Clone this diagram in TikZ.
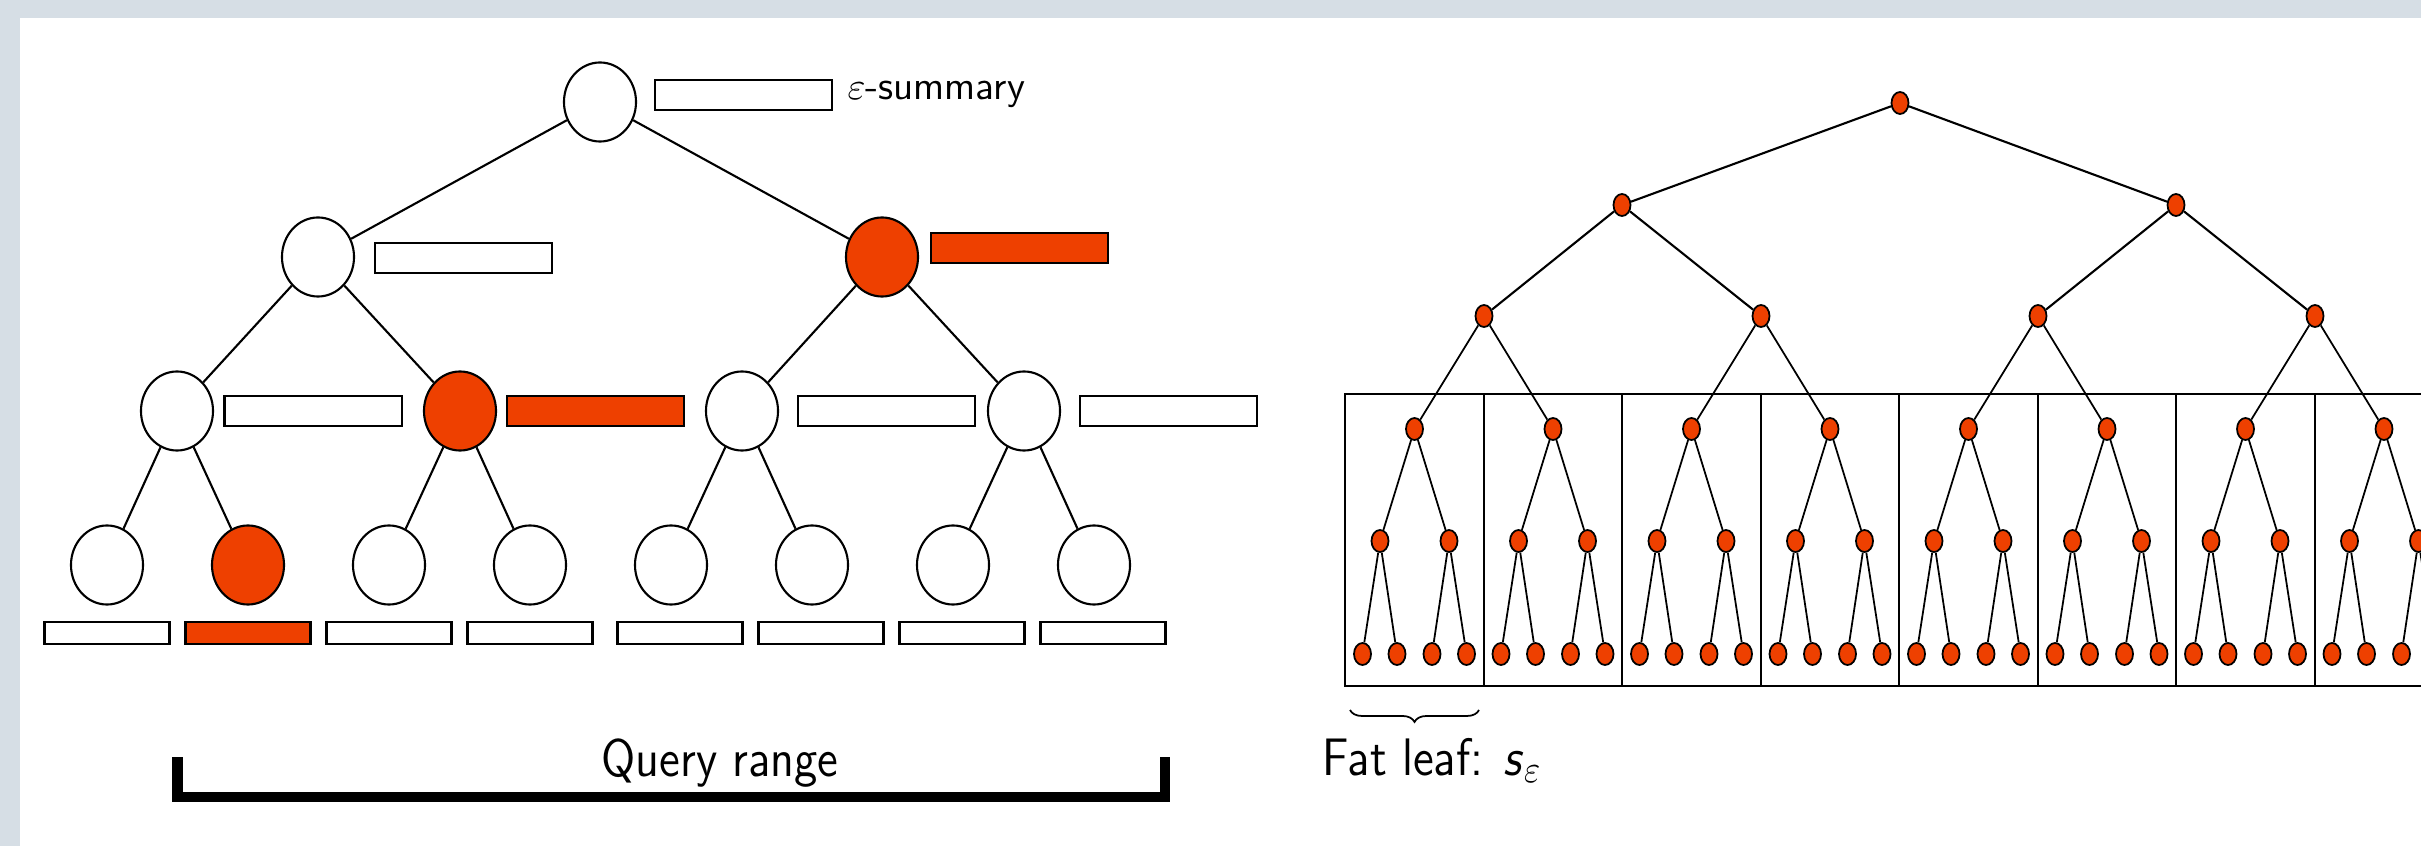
\documentclass[tikz,border=0pt]{standalone}
\usepackage{graphicx}
\usetikzlibrary{shapes.geometric,decorations.pathreplacing}
\definecolor{bggray}{HTML}{D6DEE5}
\definecolor{hot}{HTML}{EE4000}
\begin{document}
\begin{tikzpicture}[x=0.01cm,y=-0.01cm,
  big/.style={ellipse,draw,line width=0.6pt,minimum width=0.72cm,minimum height=0.79cm,inner sep=0pt,fill=white},
  bighot/.style={big,fill=hot},
  sumbox/.style={rectangle,draw,line width=0.6pt,minimum width=1.77cm,minimum height=0.30cm,inner sep=0pt,fill=white},
  sumhot/.style={sumbox,fill=hot},
  leafbox/.style={rectangle,draw,line width=0.6pt,minimum width=1.25cm,minimum height=0.22cm,inner sep=0pt,fill=white},
  leafhot/.style={leafbox,fill=hot},
  dot/.style={ellipse,draw,line width=0.5pt,fill=hot,minimum width=0.17cm,minimum height=0.22cm,inner sep=0pt},
  edge/.style={line width=0.6pt},
  thinedge/.style={line width=0.5pt},
  boxline/.style={line width=0.65pt}]
\useasboundingbox (0,0) rectangle (2421,846);
\clip (0,0) rectangle (2421,846);
\fill[bggray] (0,0) rectangle (2421,846);
\fill[white] (20,18) rectangle (2421,846);

% ---------- left tree ----------
\node[big] (r) at (600,102) {};
\node[sumbox] (rs) at (743.5,95) {};
\node[anchor=base west,inner sep=0pt,font=\fontsize{11.4}{13}\sffamily] (es) at (847,100) {$\varepsilon$-summary};

\node[big] (a) at (318,257) {};
\node[bighot] (b) at (882,257) {};
\node[sumbox] (as) at (463.5,258) {};
\node[sumhot] (bs) at (1019.5,248) {};

\node[big] (a1) at (177,411) {};
\node[bighot] (a2) at (460,411) {};
\node[big] (b1) at (742,411) {};
\node[big] (b2) at (1024,411) {};
\node[sumbox] (a1s) at (313,411) {};
\node[sumhot] (a2s) at (595.5,411) {};
\node[sumbox] (b1s) at (886.5,411) {};
\node[sumbox] (b2s) at (1168.5,411) {};

\node[big] (l1) at (107,565) {};
\node[bighot] (l2) at (248,565) {};
\node[big] (l3) at (389,565) {};
\node[big] (l4) at (530,565) {};
\node[big] (l5) at (671,565) {};
\node[big] (l6) at (812,565) {};
\node[big] (l7) at (953,565) {};
\node[big] (l8) at (1094,565) {};

\node[leafbox] (s1) at (107,633) {};
\node[leafhot] (s2) at (248,633) {};
\node[leafbox] (s3) at (389,633) {};
\node[leafbox] (s4) at (530,633) {};
\node[leafbox] (s5) at (680,633) {};
\node[leafbox] (s6) at (821,633) {};
\node[leafbox] (s7) at (962,633) {};
\node[leafbox] (s8) at (1103,633) {};

\draw[edge] (r) -- (a);
\draw[edge] (r) -- (b);
\draw[edge] (a) -- (a1);
\draw[edge] (a) -- (a2);
\draw[edge] (b) -- (b1);
\draw[edge] (b) -- (b2);
\draw[edge] (a1) -- (l1);
\draw[edge] (a1) -- (l2);
\draw[edge] (a2) -- (l3);
\draw[edge] (a2) -- (l4);
\draw[edge] (b1) -- (l5);
\draw[edge] (b1) -- (l6);
\draw[edge] (b2) -- (l7);
\draw[edge] (b2) -- (l8);

% query range bracket
\coordinate (q1) at (177.5,757);
\coordinate (q2) at (177.5,796.5);
\coordinate (q3) at (1164.5,796.5);
\coordinate (q4) at (1164.5,757);
\draw[line width=0.1cm] (q1) -- (q2) -- (q3) -- (q4);
\node[anchor=base,inner sep=0pt,font=\fontsize{15}{18}\sffamily] (qt) at (720,776) {\scalebox{0.9}[1]{Query range}};

% ---------- right tree ----------
\draw[boxline] (1345,394) rectangle (2480,686);
\foreach \k in {1,...,8}{
  \pgfmathsetmacro\dx{round(1345+138.5*\k)}
  \draw[boxline] (\dx,394) -- (\dx,686);
}

\node[dot] (R) at (1900,103) {};
\node[dot] (P0) at (1622,205) {};
\node[dot] (P1) at (2176,205) {};
\foreach \j in {0,...,3}{
  \node[dot] (C\j) at (1484+277*\j,316) {};
}
\foreach \k in {0,...,7}{
  \pgfmathsetmacro\cx{1414.5+138.5*\k}
  \node[dot] (F\k) at (\cx,429) {};
  \node[dot] (G\k a) at (\cx-34.5,541) {};
  \node[dot] (G\k b) at (\cx+34.5,541) {};
  \node[dot] (H\k a) at (\cx-52,654) {};
  \node[dot] (H\k b) at (\cx-17.5,654) {};
  \node[dot] (H\k c) at (\cx+17.5,654) {};
  \node[dot] (H\k d) at (\cx+52,654) {};
  \draw[thinedge] (F\k) -- (G\k a);
  \draw[thinedge] (F\k) -- (G\k b);
  \draw[thinedge] (G\k a) -- (H\k a);
  \draw[thinedge] (G\k a) -- (H\k b);
  \draw[thinedge] (G\k b) -- (H\k c);
  \draw[thinedge] (G\k b) -- (H\k d);
}
\draw[edge] (R) -- (P0);
\draw[edge] (R) -- (P1);
\draw[edge] (P0) -- (C0);
\draw[edge] (P0) -- (C1);
\draw[edge] (P1) -- (C2);
\draw[edge] (P1) -- (C3);
\foreach \j in {0,...,3}{
  \pgfmathtruncatemacro\ka{2*\j}
  \pgfmathtruncatemacro\kb{2*\j+1}
  \draw[thinedge] (C\j) -- (F\ka);
  \draw[thinedge] (C\j) -- (F\kb);
}

% fat leaf brace
\coordinate (br1) at (1350,710);
\coordinate (br2) at (1479,710);
\draw[thinedge,decorate,decoration={brace,mirror,amplitude=3.4pt}] (br1) -- (br2);
\node[anchor=base west,inner sep=0pt,font=\fontsize{15}{18}\sffamily] (fl) at (1322,775) {\scalebox{0.9}[1]{Fat leaf: \textit{s}$_{\varepsilon}$}};
\end{tikzpicture}
\end{document}
